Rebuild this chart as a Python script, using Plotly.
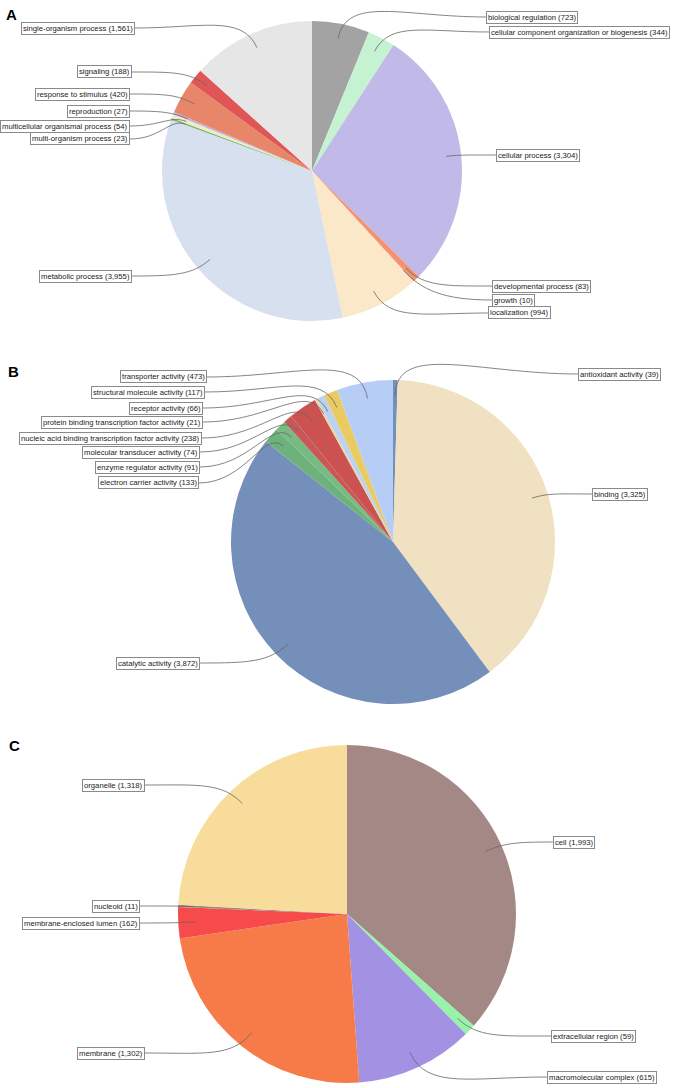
import math
import plotly.graph_objects as go

W, H = 673, 1088

# ---------------- data ----------------
a_labels = ["biological regulation", "cellular component organization or biogenesis",
            "cellular process", "developmental process", "growth", "localization",
            "metabolic process", "multi-organism process", "multicellular organismal process",
            "reproduction", "response to stimulus", "signaling", "single-organism process"]
a_values = [723, 344, 3304, 83, 10, 994, 3955, 23, 54, 27, 420, 188, 1561]
a_colors = ["#A3A3A3", "#C5F3D2", "#C1B9E7", "#F4916E", "#F2A58A", "#FAE8C8",
            "#D7E0EF", "#7BB87A", "#F3EBC0", "#B8B0E0", "#E8866A", "#E05656", "#E6E6E6"]

b_labels = ["antioxidant activity", "binding", "catalytic activity", "electron carrier activity",
            "enzyme regulator activity", "molecular transducer activity",
            "nucleic acid binding transcription factor activity",
            "protein binding transcription factor activity", "receptor activity",
            "structural molecule activity", "transporter activity"]
b_values = [39, 3325, 3872, 133, 91, 74, 238, 21, 66, 117, 473]
b_colors = ["#7390BA", "#EFE1C1", "#7490BA", "#6DB27B", "#77BA84", "#C95757",
            "#CC5252", "#E9D7A0", "#BCD2F2", "#EACB62", "#B6CEF5"]

c_labels = ["cell", "extracellular region", "macromolecular complex", "membrane",
            "membrane-enclosed lumen", "nucleoid", "organelle"]
c_values = [1993, 59, 615, 1302, 162, 11, 1318]
c_colors = ["#A38886", "#98F3AA", "#A391E3", "#F77B48", "#F74A4A", "#9C8A80", "#F8DC9C"]

panel_letters = ["A", "B", "C"]

# ---------------- layout (pixel positions) ----------------
a_geom = (312, 171, 150)
b_geom = (393, 542, 162)
c_geom = (347, 914, 169)

# label box: (side, edge x px, centre y px)
a_boxes = [("R", 486, 17), ("R", 489, 32), ("R", 496, 155), ("R", 492, 286),
           ("R", 492, 300), ("R", 488, 313), ("L", 132, 276), ("L", 130, 139),
           ("L", 130, 126), ("L", 130, 111), ("L", 130, 94), ("L", 132, 72),
           ("L", 135, 28)]
b_boxes = [("R", 578, 374), ("R", 592, 494), ("L", 200, 663), ("L", 199, 483),
           ("L", 200, 467), ("L", 200, 452), ("L", 202, 438), ("L", 203, 422),
           ("L", 203, 408), ("L", 205, 392), ("L", 207, 377)]
c_boxes = [("R", 553, 842), ("R", 551, 1036), ("R", 547, 1077), ("L", 145, 1053),
           ("L", 140, 923), ("L", 140, 906), ("L", 145, 785)]

letter_pos = [(4, 4), (6, 361), (7, 735)]


def px(x, y):
    return x / W, 1 - y / H


fig = go.Figure()
annotations = []
shapes = []

panels = [
    (a_labels, a_values, a_colors, a_geom, a_boxes),
    (b_labels, b_values, b_colors, b_geom, b_boxes),
    (c_labels, c_values, c_colors, c_geom, c_boxes),
]

for labels, values, colors, (cx, cy, r), boxes in panels:
    fig.add_trace(go.Pie(
        labels=labels, values=values, sort=False, direction="clockwise", rotation=0,
        marker=dict(colors=colors, line=dict(width=0)),
        textinfo="none", hoverinfo="label+value", showlegend=False,
        domain=dict(x=[(cx - r) / W, (cx + r) / W], y=[1 - (cy + r) / H, 1 - (cy - r) / H]),
    ))
    total = float(sum(values))
    cum = 0.0
    for lab, v, (side, ex, ey) in zip(labels, values, boxes):
        theta = math.radians(360.0 * (cum + v / 2.0) / total)
        cum += v
        dx, dy = math.sin(theta), -math.cos(theta)
        sx, sy = cx + 0.9 * r * dx, cy + 0.9 * r * dy
        D = abs(ex - sx)
        sgn = 1 if side == "L" else -1
        p1 = (sx + dx * 0.3 * D, sy + dy * 0.3 * D)
        p2 = (ex + sgn * 0.55 * D, ey)
        pts = [px(sx, sy), px(*p1), px(*p2), px(ex, ey)]
        path = "M {:.5f},{:.5f} C {:.5f},{:.5f} {:.5f},{:.5f} {:.5f},{:.5f}".format(
            pts[0][0], pts[0][1], pts[1][0], pts[1][1], pts[2][0], pts[2][1], pts[3][0], pts[3][1])
        shapes.append(dict(type="path", xref="paper", yref="paper", path=path,
                           line=dict(color="#666666", width=0.8)))
        ax, ay = px(ex, ey)
        annotations.append(dict(
            x=ax, y=ay, xref="paper", yref="paper", showarrow=False,
            xanchor="right" if side == "L" else "left", yanchor="middle",
            text="{} ({:,})".format(lab, v),
            font=dict(family="Liberation Sans, Arial, sans-serif", size=7.7, color="#1A1A1A"),
            bgcolor="white", bordercolor="#8A8A8A", borderwidth=1, borderpad=1,
        ))

for letter, (lx, ly) in zip(panel_letters, letter_pos):
    x, y = px(lx, ly)
    annotations.append(dict(
        x=x, y=y, xref="paper", yref="paper", showarrow=False,
        xanchor="left", yanchor="top", text="<b>{}</b>".format(letter),
        font=dict(family="Liberation Sans, Arial, sans-serif", size=15, color="black"),
    ))

fig.update_layout(
    width=W, height=H, margin=dict(l=0, r=0, t=0, b=0),
    paper_bgcolor="white", plot_bgcolor="white",
    annotations=annotations, shapes=shapes,
)

fig.write_html("out.html", config={"displayModeBar": False},
               post_script="document.body.style.margin='0px';document.body.style.overflow='hidden';")
